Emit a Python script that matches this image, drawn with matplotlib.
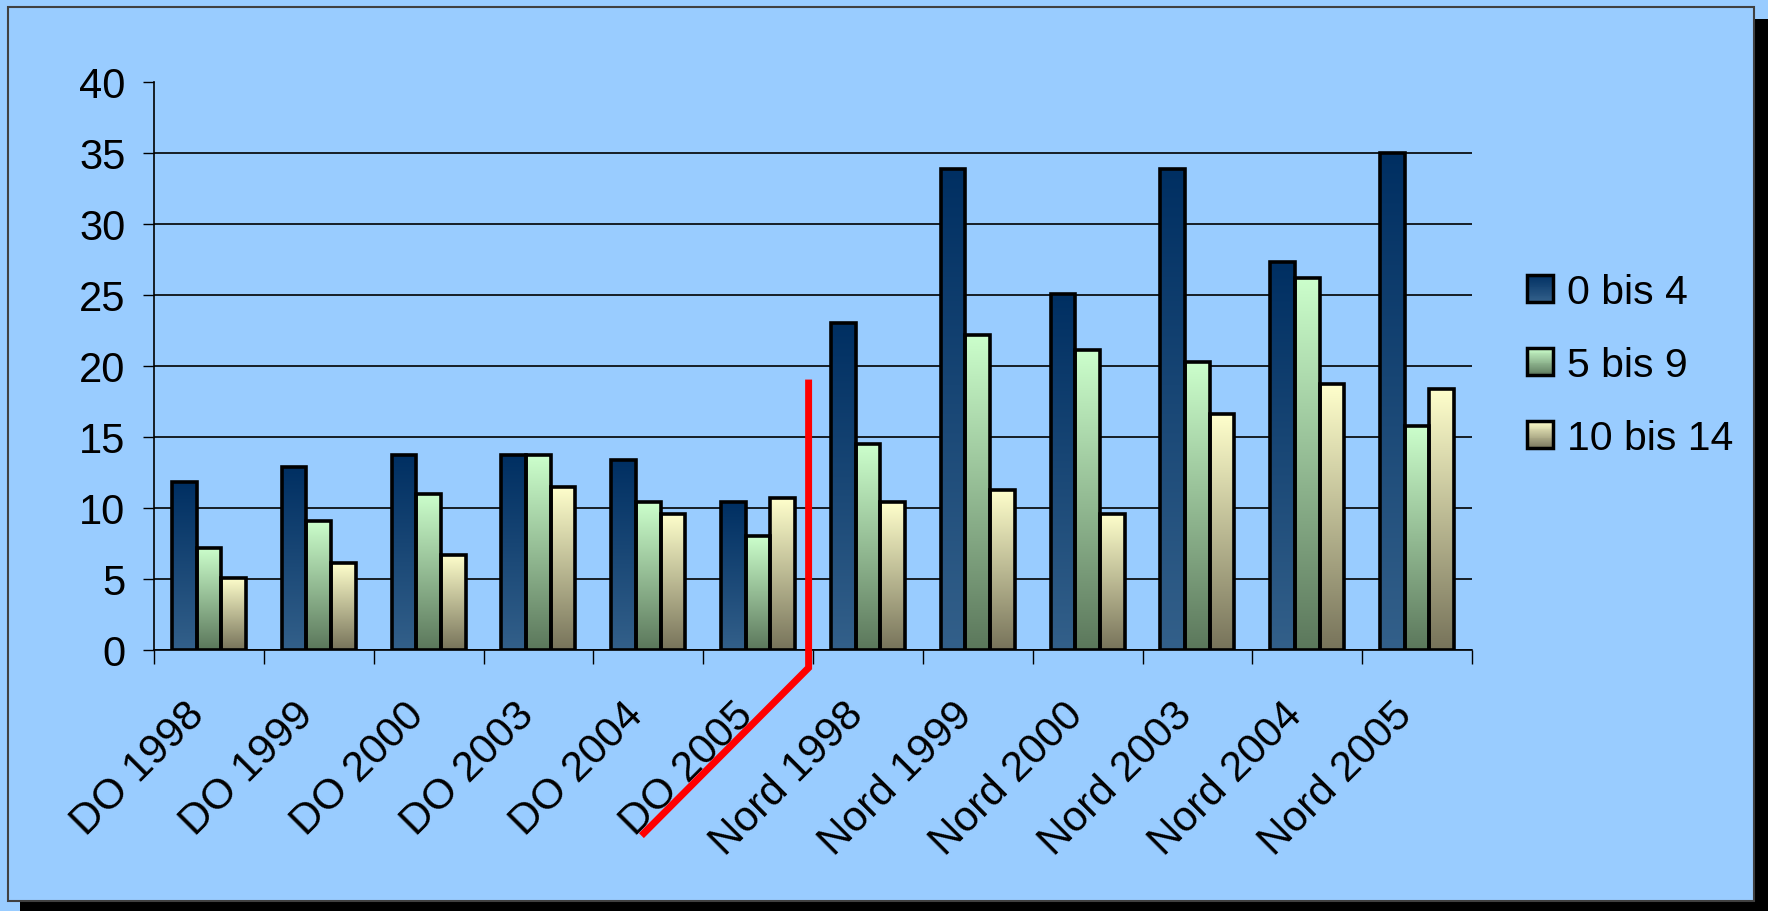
import numpy as np
import matplotlib
matplotlib.use("Agg")
import matplotlib.pyplot as plt
from matplotlib.colors import LinearSegmentedColormap
from matplotlib.patches import Rectangle
from matplotlib.legend_handler import HandlerBase
from matplotlib.transforms import ScaledTranslation

plt.rcParams['font.family'] = ['Liberation Sans', 'DejaVu Sans']

categories = ['DO 1998', 'DO 1999', 'DO 2000', 'DO 2003', 'DO 2004', 'DO 2005',
              'Nord 1998', 'Nord 1999', 'Nord 2000', 'Nord 2003', 'Nord 2004', 'Nord 2005']
series = ['0 bis 4', '5 bis 9', '10 bis 14']
age_0_4 = [11.8, 12.9, 13.7, 13.7, 13.4, 10.4, 23.0, 33.9, 25.1, 33.9, 27.3, 35.0]
age_5_9 = [7.2, 9.1, 11.0, 13.7, 10.4, 8.0, 14.5, 22.2, 21.1, 20.3, 26.2, 15.8]
age_10_14 = [5.1, 6.1, 6.7, 11.5, 9.6, 10.7, 10.4, 11.3, 9.6, 16.6, 18.7, 18.4]
yticks = [0, 5, 10, 15, 20, 25, 30, 35, 40]

# red separator between the DO and Nord groups (data coords)
sep_x = [5.46, 5.46, 3.96]
sep_y = [18.8, -1.25, -12.9]

bg = '#99CCFF'
# bottom -> top colours of each bar gradient
grad = [('#33608A', '#002F62'), ('#5B775B', '#CCFFCC'), ('#77735A', '#FFFFCC')]
cmaps = [LinearSegmentedColormap.from_list('g%d' % i, c) for i, c in enumerate(grad)]

fig = plt.figure(figsize=(17.68, 9.12), dpi=100, facecolor=bg)
W, H = 1768, 912

# chart area with drop shadow
fig.add_artist(Rectangle((20 / W, 0), 1 - 20 / W, 1 - 20 / H, transform=fig.transFigure,
                         facecolor='black', edgecolor='none', zorder=-20))
fig.add_artist(Rectangle((8 / W, 10 / H), (1754 - 8) / W, (904 - 10) / H, transform=fig.transFigure,
                         facecolor=bg, edgecolor='#404040', lw=1.5, zorder=-19))

ax = fig.add_axes([154 / W, 1 - 651 / H, (1472 - 154) / W, (651 - 83) / H])
ax.set_facecolor(bg)

x = np.arange(len(categories))
width = 0.225
offsets = [-width, 0, width]
for vals, off, cm in zip([age_0_4, age_5_9, age_10_14], offsets, cmaps):
    bars = ax.bar(x + off, vals, width, facecolor='none', edgecolor='black', lw=2.6, zorder=4)
    for b in bars:
        x0, h = b.get_x(), b.get_height()
        im = ax.imshow(np.linspace(0, 1, 256).reshape(-1, 1), cmap=cm, origin='lower',
                       extent=[x0, x0 + width, 0, h], aspect='auto', zorder=3,
                       interpolation='bilinear')
        im.set_clip_path(b)

ax.set_xlim(-0.5, len(categories) - 0.5)
ax.set_ylim(0, 40)

ax.set_yticks(yticks)
ax.tick_params(axis='y', labelsize=30, length=8, width=1, direction='out', pad=12.5)
ax.yaxis.grid(True, color='black', lw=1.2, zorder=1)
ax.set_axisbelow(True)
ax.get_ygridlines()[-1].set_visible(False)

ax.set_xticks(np.arange(-0.5, len(categories)), labels=[])
ax.set_xticks(x, labels=categories, minor=True)
ax.tick_params(axis='x', which='major', length=10, width=1, direction='out')
ax.tick_params(axis='x', which='minor', length=0, labelsize=30.5, pad=42)
shift = ScaledTranslation(-11 / 100, 0, fig.dpi_scale_trans)
for lab in ax.get_xticklabels(minor=True):
    lab.set_rotation(45)
    lab.set_ha('right')
    lab.set_va('center')
    lab.set_rotation_mode('anchor')
    lab.set_transform(lab.get_transform() + shift)

for s in ['top', 'right']:
    ax.spines[s].set_visible(False)
for s in ['left', 'bottom']:
    ax.spines[s].set_color('black')
    ax.spines[s].set_linewidth(1.2)

ax.plot(sep_x, sep_y, color='#FF0000', lw=5, clip_on=False, zorder=6,
        solid_joinstyle='miter')


class GradientHandler(HandlerBase):
    def __init__(self, cmap):
        super().__init__()
        self.cmap = cmap

    def create_artists(self, legend, orig_handle, xdescent, ydescent, width, height, fontsize, trans):
        arts = []
        n = 30
        for i in range(n):
            arts.append(Rectangle((-xdescent, -ydescent + height * i / n), width, height / n * 1.05,
                                  facecolor=self.cmap((i + 0.5) / n), edgecolor='none', transform=trans))
        arts.append(Rectangle((-xdescent, -ydescent), width, height, facecolor='none',
                              edgecolor='black', lw=2.5, transform=trans))
        return arts


proxies = [Rectangle((0, 0), 1, 1) for _ in series]
fig.legend(proxies, series, loc='center left', bbox_to_anchor=(1527 / W, 1 - 366 / H),
           frameon=False, fontsize=29.5, handlelength=0.64, handleheight=0.64,
           handletextpad=0.33, labelspacing=0.86, borderpad=0, borderaxespad=0,
           handler_map={p: GradientHandler(c) for p, c in zip(proxies, cmaps)})

fig.savefig('out.png', dpi=100, facecolor=bg)
